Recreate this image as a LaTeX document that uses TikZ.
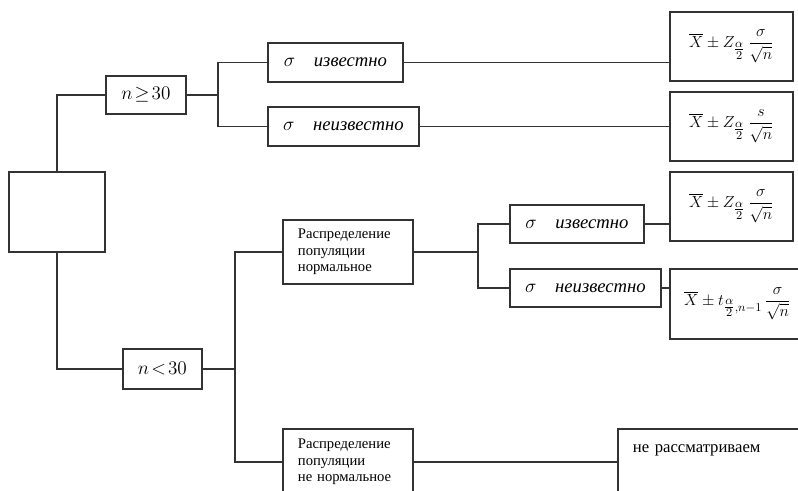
\documentclass[tikz,border=0pt]{standalone}
\usepackage{amsmath,amssymb}
\usepackage{fontspec}
\setmainfont{Liberation Serif}
\usepackage{tikz}
\usetikzlibrary{positioning, calc}
\newcommand{\halfalpha}{\genfrac{}{}{}{1}{\alpha}{2}}
\tikzset{
    blk/.style={rectangle, draw=black!80, line width=1.4pt, inner sep=0pt,
                anchor=north west, text centered},
    cond/.style={blk, font=\fontsize{15}{17}\selectfont},
    sig/.style={blk, font=\fontsize{14}{16}\selectfont},
    frm/.style={blk, minimum width=92.25pt, minimum height=51.75pt,
                font=\fontsize{13}{15}\selectfont},
    dist/.style={blk, text width=75pt, inner xsep=11.25pt, align=left,
                 font=\fontsize{11}{12.4}\selectfont},
    line/.style={line width=1.4pt, draw=black!80}
}

\begin{document}
\begin{tikzpicture}[x=0.75pt, y=-0.75pt]
  \clip (0,0) rectangle (798,490);

  % --- Root ---
  \node[blk, minimum width=72pt, minimum height=60pt] (root) at (8,171) {};

  % --- n >= 30 branch ---
  \node[cond, minimum width=60pt, minimum height=28.5pt] (nge) at (105,75)
        {$n\!\geq\!30$};
  \node[sig, minimum width=101.25pt, minimum height=29.25pt] (sk) at (267,42)
        {$\sigma$\quad\textit{известно}};
  \node[sig, minimum width=113.25pt, minimum height=29.25pt] (su) at (267,106)
        {$\sigma$\quad\textit{неизвестно}};
  \node[frm] (f1) at (669,11)
        {$\overline{X} \pm Z_{\halfalpha}\,\dfrac{\sigma}{\sqrt{n}}$};
  \node[frm] (f2) at (669,91)
        {$\overline{X} \pm Z_{\halfalpha}\,\dfrac{s}{\sqrt{n}}$};

  % --- n < 30 branch ---
  \node[cond, minimum width=59.25pt, minimum height=30pt] (nlt) at (122,348)
        {$n\!<\!30$};
  \node[dist, minimum height=48pt] (pn) at (282,219)
        {Распределение\\популяции\\нормальное};
  \node[sig, minimum width=100.5pt, minimum height=28.5pt] (lk) at (509,204)
        {$\sigma$\quad\textit{известно}};
  \node[sig, minimum width=113.25pt, minimum height=28.5pt] (lu) at (509,268)
        {$\sigma$\quad\textit{неизвестно}};
  \node[frm] (f3) at (669,171)
        {$\overline{X} \pm Z_{\halfalpha}\,\dfrac{\sigma}{\sqrt{n}}$};
  \node[frm, minimum width=101.25pt, minimum height=52.5pt] (f4) at (669,268)
        {$\overline{X} \pm t_{\halfalpha,n-1}\,\dfrac{\sigma}{\sqrt{n}}$};
  \node[dist, minimum height=49.5pt] (pnn) at (282,428)
        {Распределение\\популяции\\не нормальное};
  \node[blk, text width=127.5pt, inner xsep=11.25pt, align=left,
        text height=18pt, text depth=60pt,
        font=\fontsize{12.5}{14}\selectfont] (nr) at (617,428)
        {не рассматриваем};

  % --- Connectors ---
  \draw[line] (root.north) |- (nge.west);
  \draw[line] (root.south) |- (nlt.west);
  \draw[line] (nge.east) -- ++(31,0) coordinate (j1);
  \draw[line] (j1) |- (sk.west);
  \draw[line] (j1) |- (su.west);
  \draw[line] (sk.east) -- (sk.east -| f1.west);
  \draw[line] (su.east) -- (su.east -| f2.west);
  \draw[line] (nlt.east) -- ++(32,0) coordinate (j2);
  \draw[line] (j2) |- (pn.west);
  \draw[line] (j2) |- (pnn.west);
  \draw[line] (pn.east) -- ++(64,0) coordinate (j3);
  \draw[line] (j3) |- (lk.west);
  \draw[line] (j3) |- (lu.west);
  \draw[line] (lk.east) -- (lk.east -| f3.west);
  \draw[line] (lu.east) -- (lu.east -| f4.west);
  \draw[line] (pnn.east) -- (pnn.east -| nr.west);

\end{tikzpicture}
\end{document}
